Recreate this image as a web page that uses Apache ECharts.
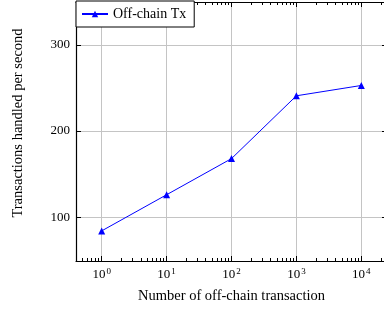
<!DOCTYPE html>
<html>
<head>
<meta charset="utf-8">
<script src="https://cdn.jsdelivr.net/npm/echarts@6/dist/echarts.min.js"></script>
<style>
  html, body { margin: 0; padding: 0; background: #fff; }
  #chart { width: 384px; height: 310px; }
</style>
</head>
<body>
<div id="chart"></div>
<script>
// data
const txCounts = [1, 10, 100, 1000, 10000];
const txPerSecond = [84, 126, 168, 241, 253];
const xMajorTicks = [1, 10, 100, 1000, 10000];
const yMajorTicks = [100, 200, 300];

// minor ticks 2..9 in every decade
const xMinorTicks = [];
[0.1, 1, 10, 100, 1000, 10000].forEach(function (d) {
  for (let k = 2; k <= 9; k++) xMinorTicks.push(d * k);
});

const font = "'Liberation Serif', 'DejaVu Serif', serif";
const xMin = Math.pow(10, -0.396);
const xMax = Math.pow(10, 4.396);

const chart = echarts.init(document.getElementById("chart"));

function supLabel(v) {
  const e = Math.round(Math.log10(v));
  return "10{sup|" + e + "}";
}

function minorAxis(pos) {
  return {
    type: "log", logBase: 10, min: xMin, max: xMax, position: pos,
    axisLine: { show: false },
    axisTick: { show: true, inside: true, length: 3, customValues: xMinorTicks,
      lineStyle: { color: "#000", width: 1 } },
    axisLabel: { show: false },
    splitLine: { show: false }
  };
}

const option = {
  animation: false,
  grid: { left: 76, top: 2, width: 311, height: 259, show: false, outerBoundsMode: "none" },
  legend: {
    left: 76, top: 1,
    data: ["Off-chain Tx"],
    borderColor: "#000", borderWidth: 1, borderRadius: 0,
    padding: [6, 8, 6, 5],
    itemWidth: 26, itemHeight: 8,
    textStyle: { fontFamily: font, fontSize: 14, color: "#000" },
    backgroundColor: "#fff"
  },
  xAxis: [
    {
      type: "log", logBase: 10, min: xMin, max: xMax, position: "bottom",
      name: "Number of off-chain transaction",
      nameLocation: "middle", nameGap: 28,
      nameTextStyle: { fontFamily: font, fontSize: 14.5, color: "#000" },
      axisLine: { show: true, onZero: false, lineStyle: { color: "#000", width: 1.2 } },
      axisTick: { show: true, inside: true, length: 5, customValues: xMajorTicks,
        lineStyle: { color: "#000", width: 1 } },
      axisLabel: {
        customValues: xMajorTicks, margin: 6,
        formatter: supLabel,
        fontFamily: font, fontSize: 13, color: "#000",
        rich: { sup: { fontFamily: font, fontSize: 9, verticalAlign: "top", padding: [0, 0, 6, 1], color: "#000" } }
      },
      splitLine: { show: true, lineStyle: { color: "#c4c4c4", width: 1 } }
    },
    {
      type: "log", logBase: 10, min: xMin, max: xMax, position: "top",
      axisLine: { show: true, onZero: false, lineStyle: { color: "#000", width: 1.2 } },
      axisTick: { show: true, inside: true, length: 5, customValues: xMajorTicks,
        lineStyle: { color: "#000", width: 1 } },
      axisLabel: { show: false },
      splitLine: { show: false }
    },
    minorAxis("bottom"),
    minorAxis("top")
  ],
  yAxis: [
    {
      type: "value", min: 49, max: 350, position: "left",
      name: "Transactions handled per second",
      nameLocation: "middle", nameGap: 50,
      nameTextStyle: { fontFamily: font, fontSize: 14.5, color: "#000", padding: [0, 0, 0, 17] },
      axisLine: { show: true, onZero: false, lineStyle: { color: "#000", width: 1.2 } },
      axisTick: { show: true, inside: true, length: 5, customValues: yMajorTicks,
        lineStyle: { color: "#000", width: 1 } },
      axisLabel: { customValues: yMajorTicks, margin: 6, fontFamily: font, fontSize: 13, color: "#000" },
      splitLine: { show: true, lineStyle: { color: "#c4c4c4", width: 1 } }
    },
    {
      type: "value", min: 49, max: 350, position: "right",
      axisLine: { show: true, onZero: false, lineStyle: { color: "#000", width: 1.2 } },
      axisTick: { show: true, inside: true, length: 5, customValues: yMajorTicks,
        lineStyle: { color: "#000", width: 1 } },
      axisLabel: { show: false },
      splitLine: { show: false }
    }
  ],
  series: [
    {
      name: "Off-chain Tx",
      type: "line",
      xAxisIndex: 0, yAxisIndex: 0,
      data: txCounts.map(function (x, i) { return [x, txPerSecond[i]]; }),
      symbol: "triangle", symbolSize: 7,
      lineStyle: { color: "#0000ff", width: 1 },
      itemStyle: { color: "#0000ff" },
      z: 5
    }
  ]
};

chart.setOption(option);
</script>
</body>
</html>
